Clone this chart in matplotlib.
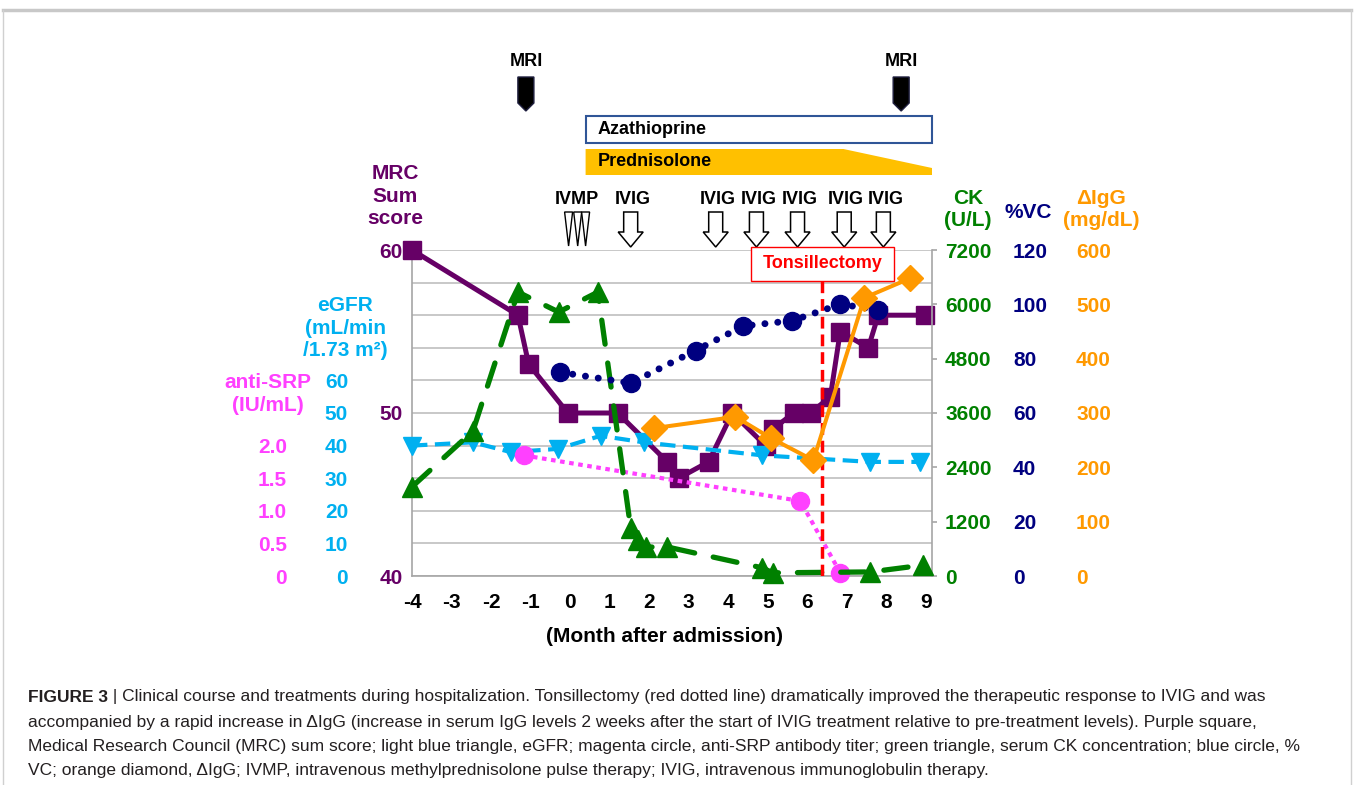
import matplotlib
matplotlib.use('Agg')
import matplotlib.pyplot as plt
import matplotlib.transforms as mtransforms
from matplotlib.patches import Polygon, Rectangle
from matplotlib.lines import Line2D

# ---------------- data ----------------
x_ticks = list(range(-4, 10))
x_label = '(Month after admission)'

mrc_months = [-4.0, -1.32, -1.05, -0.06, 1.20, 2.46, 2.74, 3.50, 4.10, 4.94, 5.12,
              5.65, 6.08, 6.58, 6.83, 7.54, 7.79, 8.98]
mrc_score = [60, 56, 53, 50, 50, 47, 46, 47, 50, 48, 49, 50, 50, 51, 55, 54, 56, 56]

egfr_months = [-4.0, -2.46, -1.50, -0.31, 0.77, 1.86, 4.86, 7.59, 8.85]
egfr_values = [40, 41, 38, 39, 43, 41, 37, 35, 35]

srp_months = [-1.17, 5.82, 6.83]
srp_values = [1.85, 1.15, 0.05]

ck_months = [-4.0, -2.46, -1.32, -0.29, 0.70, 1.53, 1.71, 1.91, 2.46, 4.86, 5.12, 7.59, 8.93]
ck_values = [1970, 3200, 6270, 5830, 6270, 1060, 800, 640, 640, 180, 70, 90, 240]

vc_months = [-0.26, 1.53, 3.17, 4.38, 5.62, 6.83, 7.79]
vc_values = [75, 71, 83, 92, 94, 100, 98]

igg_months = [2.11, 4.18, 5.07, 6.15, 7.44, 8.60]
igg_values = [272, 293, 254, 213, 512, 548]

mri_months = [-1.12, 8.37]
ivmp_months = [-0.04, 0.19, 0.39]
ivig_months = [1.53, 3.68, 4.71, 5.75, 6.93, 7.92]
aza_start, aza_end = 0.39, 9.15
pred_start, pred_taper, pred_end = 0.39, 6.91, 9.15
tonsil_month = 6.38

mrc_ticks = [40, 42, 44, 46, 48, 50, 52, 54, 56, 58, 60]
mrc_tick_labels = ['40', '', '', '', '', '50', '', '', '', '', '60']
egfr_ticks = [0, 10, 20, 30, 40, 50, 60]
srp_ticks = [0, 0.5, 1.0, 1.5, 2.0]
srp_tick_labels = ['0', '0.5', '1.0', '1.5', '2.0']
ck_ticks = [0, 1200, 2400, 3600, 4800, 6000, 7200]
vc_ticks = [0, 20, 40, 60, 80, 100, 120]
igg_ticks = [0, 100, 200, 300, 400, 500, 600]

caption_bold = 'FIGURE 3'
caption_lines = [
    ' | Clinical course and treatments during hospitalization. Tonsillectomy (red dotted line) dramatically improved the therapeutic response to IVIG and was',
    'accompanied by a rapid increase in \u0394IgG (increase in serum IgG levels 2 weeks after the start of IVIG treatment relative to pre-treatment levels). Purple square,',
    'Medical Research Council (MRC) sum score; light blue triangle, eGFR; magenta circle, anti-SRP antibody titer; green triangle, serum CK concentration; blue circle, %',
    'VC; orange diamond, \u0394IgG; IVMP, intravenous methylprednisolone pulse therapy; IVIG, intravenous immunoglobulin therapy.',
]

# ---------------- style ----------------
MRC_C = '#660066'
EGFR_C = '#00B0F0'
SRP_C = '#FF40FF'
CK_C = '#008000'
VC_C = '#000080'
IGG_C = '#FF9900'
AXIS_C = '#A6A6A6'
GRID_C = '#BFBFBF'

plt.rcParams['font.family'] = ['Liberation Sans', 'DejaVu Sans']
plt.rcParams['font.weight'] = 'bold'

W, H = 1354, 785
fig = plt.figure(figsize=(W / 100, H / 100), dpi=100)
fig.patch.set_facecolor('white')


def P(x, y):
    return (x / W, 1 - y / H)


L, R, T, B = 412, 932, 250, 576
ax = fig.add_axes([L / W, 1 - B / H, (R - L) / W, (B - T) / H])
ax.set_xlim(-4.0, 9.15)
ax.set_ylim(40, 60)
ax.set_yticks(mrc_ticks)
ax.set_yticklabels(mrc_tick_labels)
ax.set_xticks(x_ticks)
ax.set_xticklabels([str(v) for v in x_ticks])
ax.grid(axis='y', color=GRID_C, lw=1.2)
ax.set_axisbelow(True)
ax.tick_params(axis='y', length=0, pad=6.5, labelsize=15, labelcolor=MRC_C)
ax.tick_params(axis='x', length=0, pad=12, labelsize=15, labelcolor='black')
for s in ['top', 'right']:
    ax.spines[s].set_visible(False)
for s in ['left', 'bottom']:
    ax.spines[s].set_color(AXIS_C)
    ax.spines[s].set_linewidth(1.2)


def make_twin(side, ylim, ticks, labels, color, pad):
    t = ax.twinx()
    t.set_ylim(*ylim)
    if side == 'left':
        t.yaxis.tick_left()
    else:
        t.yaxis.tick_right()
    t.set_yticks(ticks)
    t.set_yticklabels(labels)
    t.tick_params(axis='y', length=0, pad=pad, labelsize=15, labelcolor=color)
    for s in t.spines.values():
        s.set_visible(False)
    return t


ax_eg = make_twin('left', (0, 100), egfr_ticks, [str(v) for v in egfr_ticks], EGFR_C, 46)
ax_srp = make_twin('left', (0, 5), srp_ticks, srp_tick_labels, SRP_C, 90)
ax_ck = make_twin('right', (0, 7200), ck_ticks, [str(v) for v in ck_ticks], CK_C, 5.8)
ax_ck.spines['right'].set_visible(True)
ax_ck.spines['right'].set_color(AXIS_C)
ax_ck.spines['right'].set_linewidth(1.2)
ax_ck.tick_params(axis='y', length=3.6, direction='out', color=AXIS_C, width=1.2)
ax_vc = make_twin('right', (0, 120), vc_ticks, [str(v) for v in vc_ticks], VC_C, 58.3)
ax_igg = make_twin('right', (0, 600), igg_ticks, [str(v) for v in igg_ticks], IGG_C, 103.7)

# ---------------- series ----------------
ax.plot(mrc_months, mrc_score, color=MRC_C, lw=3.6, marker='s', ms=13.5,
        clip_on=False, zorder=3)
ax_eg.plot(egfr_months, egfr_values, color=EGFR_C, lw=3.0, marker='v', ms=13,
           dashes=(3.7, 1.8), clip_on=False, zorder=3)
ax_srp.plot(srp_months, srp_values, color=SRP_C, lw=3.0, marker='o', ms=13,
            dashes=(1.1, 1.1), clip_on=False, zorder=3)
ax_ck.plot(ck_months, ck_values, color=CK_C, lw=3.8, marker='^', ms=15,
           dashes=(4.6, 3.6), dash_capstyle='round', clip_on=False, zorder=3)
ax_ck.axvline(tonsil_month, ymin=0, ymax=(B - 281) / (B - T), color='#FF0000',
              lw=2.5, dashes=(3.4, 1.7), zorder=4)
ax_vc.plot(vc_months, vc_values, color=VC_C, lw=5.0, marker='o', ms=13,
           dashes=(0.01, 1.85), dash_capstyle='round', clip_on=False, zorder=3)
ax_igg.plot(igg_months, igg_values, color=IGG_C, lw=2.9, marker='D', ms=13,
            clip_on=False, zorder=3)

# ---------------- annotations above the plot ----------------
fig.canvas.draw()
ppm = ax.transData.transform((1, 0))[0] - ax.transData.transform((0, 0))[0]
trans = mtransforms.blended_transform_factory(ax.transData, fig.transFigure)


def dx(px):
    return px / ppm


def fy(y):
    return 1 - y / H


def add_poly(verts, **kw):
    p = Polygon(verts, closed=True, transform=trans, clip_on=False, **kw)
    ax_igg.add_patch(p)


for m in mri_months:
    ax_igg.text(m, fy(62), 'MRI', transform=trans, ha='center', va='center',
                fontsize=13, color='black')
    add_poly([(m - dx(8), fy(77)), (m + dx(8), fy(77)), (m + dx(8), fy(103)),
              (m, fy(111)), (m - dx(8), fy(103))], fc='black', ec='#1F1F3F', lw=1)

ax_igg.add_patch(Rectangle((aza_start, fy(143)), aza_end - aza_start, fy(116) - fy(143),
                           transform=trans, clip_on=False, fc='white', ec='#2F5597', lw=1.5))
ax_igg.text(aza_start + dx(12), fy(130), 'Azathioprine', transform=trans, ha='left',
            va='center', fontsize=13, color='black')

add_poly([(pred_start, fy(175)), (pred_start, fy(149)), (pred_taper, fy(149)),
          (pred_end, fy(168)), (pred_end, fy(175))], fc='#FFC000', ec='none')
ax_igg.text(pred_start + dx(12), fy(162), 'Prednisolone', transform=trans, ha='left',
            va='center', fontsize=13, color='black')

ax_igg.text(sum(ivmp_months) / len(ivmp_months), fy(200), 'IVMP', transform=trans,
            ha='center', va='center', fontsize=13, color='black')
for m in ivmp_months:
    add_poly([(m - dx(4), fy(212)), (m + dx(4), fy(212)), (m, fy(246))],
             fc='white', ec='black', lw=1.0)

for m in ivig_months:
    ax_igg.text(m + dx(2), fy(200), 'IVIG', transform=trans, ha='center', va='center',
                fontsize=13, color='black')
    add_poly([(m - dx(7), fy(212)), (m + dx(7), fy(212)), (m + dx(7), fy(232)),
              (m + dx(12.5), fy(232)), (m, fy(247)), (m - dx(12.5), fy(232)),
              (m - dx(7), fy(232))], fc='white', ec='black', lw=1.1)

ax_igg.add_patch(Rectangle((tonsil_month - dx(71.5), fy(281)), dx(143), fy(247) - fy(281),
                           transform=trans, clip_on=False, fc='white', ec='#FF0000',
                           lw=1.0, zorder=5))
ax_igg.text(tonsil_month, fy(264), 'Tonsillectomy', transform=trans, ha='center',
            va='center', fontsize=13, color='#FF0000', zorder=6)

# ---------------- axis titles ----------------
fig.text(*P(395, 196), 'MRC\nSum\nscore', color=MRC_C, ha='center', va='center',
         fontsize=15, linespacing=1.25)
fig.text(*P(345, 328), 'eGFR\n(mL/min\n/1.73 m\u00b2)', color=EGFR_C, ha='center',
         va='center', fontsize=15, linespacing=1.25)
fig.text(*P(268, 394), 'anti-SRP\n(IU/mL)', color=SRP_C, ha='center', va='center',
         fontsize=15, linespacing=1.25)
fig.text(*P(968, 209.5), 'CK\n(U/L)', color=CK_C, ha='center', va='center',
         fontsize=15, linespacing=1.25)
fig.text(*P(1028, 213), '%VC', color=VC_C, ha='center', va='center', fontsize=15)
fig.text(*P(1101, 209.5), '\u0394IgG\n(mg/dL)', color=IGG_C, ha='center', va='center',
         fontsize=15, linespacing=1.25)
fig.text(*P(664, 636), x_label, color='black', ha='center', va='center', fontsize=15)

# ---------------- figure frame ----------------
fig.add_artist(Line2D([P(3, 0)[0], P(1351, 0)[0]], [fy(10), fy(10)],
                      transform=fig.transFigure, color='#C8C8C8', lw=2.5))
for xx in (3, 1351):
    fig.add_artist(Line2D([P(xx, 0)[0]] * 2, [fy(10), 0], transform=fig.transFigure,
                          color='#D0D0D0', lw=1.0))

# ---------------- caption ----------------
cap_fams = ['Liberation Sans Narrow', 'Liberation Sans', 'DejaVu Sans']
cap_color = '#231F20'
cap_y = [697, 722, 747, 771]
cap_right = [1306, 1218, 1306, 1000]
size = 12.0
tb = fig.text(*P(28, cap_y[0]), caption_bold, fontsize=size, fontweight='bold',
              family=cap_fams, color=cap_color, ha='left', va='center')
tl = [fig.text(*P(28, y), s, fontsize=size, fontweight='normal', family=cap_fams,
               color=cap_color, ha='left', va='center')
      for s, y in zip(caption_lines, cap_y)]
r = fig.canvas.get_renderer()
scales = []
for i, t in enumerate(tl):
    w = t.get_window_extent(r).width
    if i == 0:
        w += tb.get_window_extent(r).width
    scales.append((cap_right[i] - 28) / w)
size = size * sum(scales) / len(scales)
tb.set_fontsize(size)
for t in tl:
    t.set_fontsize(size)
wb = tb.get_window_extent(r).width
tl[0].set_position(P(28 + wb, cap_y[0]))

fig.savefig('out.png', dpi=100, facecolor='white')
